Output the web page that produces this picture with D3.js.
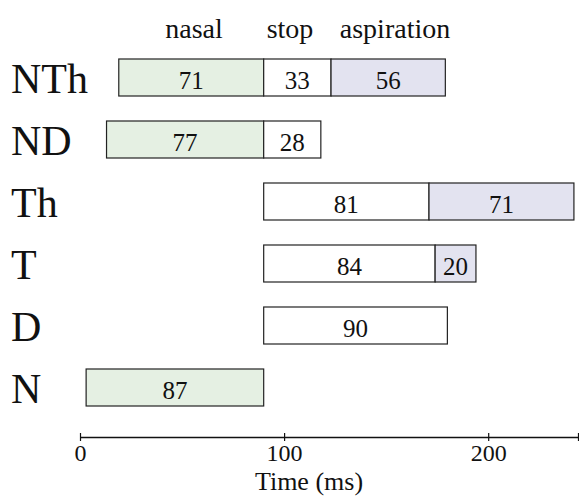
<!DOCTYPE html>
<html>
<head>
<meta charset="utf-8">
<script src="https://cdn.jsdelivr.net/npm/d3@7"></script>
<style>
  html, body { margin: 0; padding: 0; background: #fff; }
  svg text { font-family: "Liberation Serif", "Times New Roman", Times, serif; }
</style>
</head>
<body>
<svg id="chart" width="579" height="496"></svg>
<script>
// ---- data ----
const categories = ["NTh", "ND", "Th", "T", "D", "N"];
const nasal = [71, 77, 0, 0, 0, 87];
const stop = [33, 28, 81, 84, 90, 0];
const aspiration = [56, 0, 71, 20, 0, 0];
const stopOnset = 90;
const tickValues = [0, 100, 200];
const phaseNames = ["nasal", "stop", "aspiration"];
const axisMax = 244;

const FONT = "'Liberation Serif', 'Times New Roman', Times, serif";
const colors = { nasal: "#e5f0e3", stop: "#ffffff", aspiration: "#e3e3f0" };

const svg = d3.select("#chart");
const x = d3.scaleLinear().domain([0, axisMax]).range([80, 578]);
const y = d3.scalePoint().domain(categories).range([77.5, 387.5]);
const barH = 37;

// build segments
const segs = [];
categories.forEach((c, i) => {
  const parts = [
    { phase: "nasal", start: stopOnset - nasal[i], v: nasal[i] },
    { phase: "stop", start: stopOnset, v: stop[i] },
    { phase: "aspiration", start: stopOnset + stop[i], v: aspiration[i] }
  ];
  parts.forEach(p => { if (p.v > 0) segs.push({ cat: c, ...p }); });
});

const g = svg.append("g");
g.selectAll("rect.seg").data(segs).join("rect")
  .attr("class", "seg")
  .attr("x", d => x(d.start))
  .attr("y", d => y(d.cat) - barH / 2)
  .attr("width", d => x(d.start + d.v) - x(d.start))
  .attr("height", barH)
  .attr("fill", d => colors[d.phase])
  .attr("stroke", "#222")
  .attr("stroke-width", 1.2);

g.selectAll("text.val").data(segs).join("text")
  .attr("class", "val")
  .attr("x", d => x(d.start + d.v / 2))
  .attr("y", d => y(d.cat) + 11)
  .attr("text-anchor", "middle")
  .attr("font-family", FONT)
  .attr("font-size", 25)
  .attr("fill", "#111")
  .text(d => d.v);

// row labels
svg.selectAll("text.cat").data(categories).join("text")
  .attr("class", "cat")
  .attr("x", 11)
  .attr("y", d => y(d) + 15)
  .attr("font-family", FONT)
  .attr("font-size", 42)
  .attr("fill", "#111")
  .text(d => d);

// phase header
const headerX = [194, 290, 395];
svg.selectAll("text.hdr").data(phaseNames).join("text")
  .attr("class", "hdr")
  .attr("x", (d, i) => headerX[i])
  .attr("y", 38)
  .attr("text-anchor", "middle")
  .attr("font-family", FONT)
  .attr("font-size", 28)
  .attr("fill", "#111")
  .text(d => d);

// axis
const axisY = 437;
const axis = d3.axisBottom(x).tickValues(tickValues.concat([axisMax])).tickSize(0).tickFormat(d => tickValues.includes(d) ? d : "");
const ag = svg.append("g").attr("transform", `translate(0,${axisY})`).call(axis);
ag.attr("font-family", FONT);
ag.select(".domain").attr("stroke", "#111").attr("stroke-width", 1.4);
ag.selectAll(".tick line").attr("y1", -4).attr("y2", 4).attr("stroke", "#111").attr("stroke-width", 1.2);
ag.selectAll(".tick text")
  .attr("font-family", FONT)
  .attr("font-size", 24)
  .attr("fill", "#111")
  .attr("dy", 0)
  .attr("y", 24);

svg.append("text")
  .attr("x", 309)
  .attr("y", 490)
  .attr("text-anchor", "middle")
  .attr("font-family", FONT)
  .attr("font-size", 26)
  .attr("fill", "#111")
  .text("Time (ms)");
</script>
</body>
</html>
